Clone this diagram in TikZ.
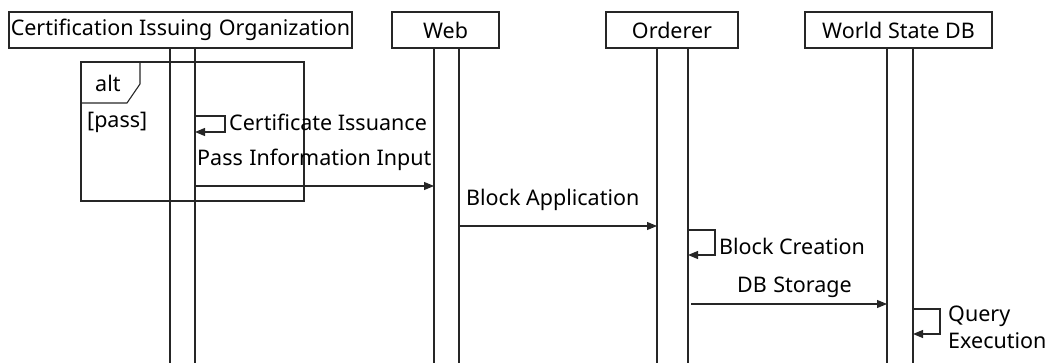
\documentclass[tikz,border=0pt]{standalone}
\usepackage{fontspec}
\setmainfont{Noto Sans}
\usetikzlibrary{arrows.meta}
\begin{document}
\begin{tikzpicture}[x=1pt,y=-1pt,
  ln/.style={line width=1.1pt,draw=black!85},
  head/.style={ln,draw,inner sep=0pt,minimum height=36pt,font=\fontsize{21.5}{24}\selectfont},
  lbl/.style={inner sep=0pt,font=\fontsize{21.5}{24}\selectfont},
  msg/.style={ln,-{Triangle[length=10pt,width=8pt]}}]
\useasboundingbox (0,0) rectangle (1048,363);

% participants
\node[head,minimum width=343pt] (cio) at (180.5,30) {Certification Issuing\hspace{0.3em}Organization};
\node[head,minimum width=107pt] (web) at (445.5,30) {Web};
\node[head,minimum width=132pt] (ord) at (672,30) {Orderer};
\node[head,minimum width=187pt] (wsdb) at (898.5,30) {World State DB};

% activation bars (two vertical lines each)
\foreach \p/\a/\b in {cio/170/195, web/434/459, ord/657/688, wsdb/887/913}{
  \draw[ln] (\a,48) -- (\a,363);
  \draw[ln] (\b,48) -- (\b,363);
}

% alt fragment
\draw[ln] (81,62) rectangle (304,201);
\draw[ln] (81,103) -- (127,103) -- (140,84) -- (140,62);
\node[lbl,anchor=west] (alt) at (95,83) {alt};
\node[lbl,anchor=west] (cond) at (87,122) {[pass]};

% self message: certificate issuance
\coordinate (s1a) at (195,116);
\coordinate (s1b) at (195,132);
\draw[msg] (s1a) -- (225,116) -- (225,132) -- (s1b);
\node[lbl,anchor=west] (t1) at (229,122) {Certificate Issuance};

% pass information input
\coordinate (m1a) at (195,186);
\coordinate (m1b) at (434,186);
\draw[msg] (m1a) -- (m1b);
\node[lbl,anchor=west] (t2) at (197,160) {Pass\hspace{0.3em}Information Input};

% block application
\coordinate (m2a) at (459,226);
\coordinate (m2b) at (657,226);
\draw[msg] (m2a) -- (m2b);
\node[lbl,anchor=west] (t3) at (466,200) {Block Application};

% self message: block creation
\coordinate (s2a) at (688,230);
\coordinate (s2b) at (688,255);
\draw[msg] (s2a) -- (715,230) -- (715,255) -- (s2b);
\node[lbl,anchor=west] (t4) at (719,246) {Block Creation};

% DB storage
\coordinate (m3a) at (691,304);
\coordinate (m3b) at (887,304);
\draw[msg] (m3a) -- (m3b);
\node[lbl,anchor=west] (t5) at (737,287) {DB\hspace{0.3em}Storage};

% self message: query execution
\coordinate (s3a) at (913,309);
\coordinate (s3b) at (913,334);
\draw[msg] (s3a) -- (940,309) -- (940,334) -- (s3b);
\node[lbl,anchor=west] (t6) at (948,316) {Query};
\node[lbl,anchor=west] (t7) at (948,341) {Execution};
\end{tikzpicture}
\end{document}
